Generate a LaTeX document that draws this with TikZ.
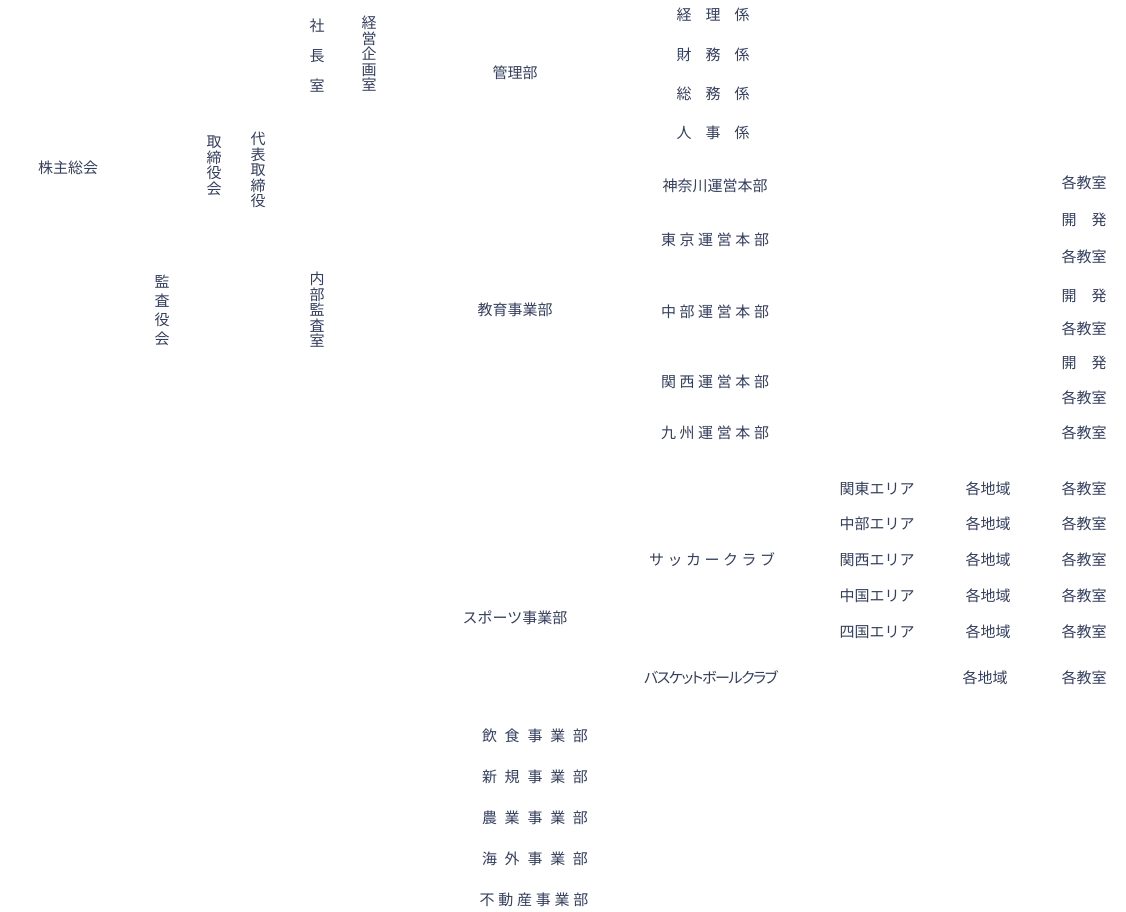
\documentclass[tikz,border=0pt]{standalone}
\usepackage{fontspec}
\setmainfont{Noto Sans CJK JP}
\newfontfamily\paltfont[RawFeature=+palt]{Noto Sans CJK JP}
\usetikzlibrary{positioning}
\definecolor{orgtext}{RGB}{52,62,94}
\tikzset{org/.style={inner sep=0pt,yshift=-1pt,text=orgtext,font=\fontsize{15}{18}\selectfont}}
\makeatletter
% letter spaced text and upright vertical text
\newcommand\spaced[2]{\@tfor\sp@c:=#2\do{\sp@c\hspace{#1}}\unskip}
\newcommand\tate[2]{\vbox{\baselineskip=#1\relax\@tfor\sp@c:=#2\do{\hbox to 1em{\hss\sp@c\hss}}}}
\makeatother

\begin{document}
\begin{tikzpicture}[x=1pt,y=-1pt]
\useasboundingbox (0,0) rectangle (1126,912);
% top management
\node[org] (kabunushi) at (68,167) {株主総会};
\node[org] (kansayaku) at (162,309) {\tate{19pt}{監査役会}};
\node[org] (torishimari) at (214,165) {\tate{15.5pt}{取締役会}};
\node[org] (daihyo) at (258,169) {\tate{15.5pt}{代表取締役}};
\node[org] (shacho) at (317,55) {\tate{30pt}{社長室}};
\node[org] (keiei) at (369,53) {\tate{15.5pt}{経営企画室}};
\node[org] (naibu) at (317,309) {\tate{15.5pt}{内部監査室}};
% divisions
\node[org] (kanri) at (515,72) {管理部};
\node[org] (kyoiku) at (515,309) {教育事業部};
\node[org] (sports) at (515,617) {スポーツ事業部};
\node[org] (inshoku) at (535,735) {\spaced{7.75pt}{飲食事業部}};
\node[org] (shinki) at (535,776) {\spaced{7.75pt}{新規事業部}};
\node[org] (nogyo) at (535,817) {\spaced{7.75pt}{農業事業部}};
\node[org] (kaigai) at (535,858) {\spaced{7.75pt}{海外事業部}};
\node[org] (fudosan) at (534,899) {\spaced{3.8pt}{不動産事業部}};
% kanri
\node[org] (keiri) at (713,14) {\spaced{14pt}{経理係}};
\node[org] (zaimu) at (713,54) {\spaced{14pt}{財務係}};
\node[org] (somu) at (713,93) {\spaced{14pt}{総務係}};
\node[org] (jinji) at (713,132) {\spaced{14pt}{人事係}};
% kyoiku
\node[org] (kanagawa) at (715,185) {神奈川運営本部};
\node[org] (tokyo) at (715,239) {\spaced{3.6pt}{東京運営本部}};
\node[org] (chubu) at (715,311) {\spaced{3.6pt}{中部運営本部}};
\node[org] (kansai) at (715,381) {\spaced{3.6pt}{関西運営本部}};
\node[org] (kyushu) at (715,432) {\spaced{3.6pt}{九州運営本部}};
\foreach \y/\n in {182/1,256/2,328/3,397/4,432/5}
  \node[org] (kyoshitsu-\n) at (1084,\y) {各教室};
\foreach \y/\n in {219/1,295/2,362/3}
  \node[org] (kaihatsu-\n) at (1084,\y) {開\hspace{15pt}発};
% sports
\node[org] (soccer) at (712,559) {\spaced{3.5pt}{サッカークラブ}};
\node[org] (basket) at (711,677) {\paltfont\spaced{-1.4pt}{バスケットボールクラブ}};
\foreach \y/\a [count=\n] in {488/関東,523/中部,559/関西,595/中国,631/四国}{
  \node[org] (area-\n) at (877,\y) {\a エリア};
  \node[org] (chiiki-\n) at (988,\y) {各地域};
  \node[org] (sclass-\n) at (1084,\y) {各教室};
}
\node[org] (chiiki-6) at (985,677) {各地域};
\node[org] (sclass-6) at (1084,677) {各教室};
\end{tikzpicture}
\end{document}
